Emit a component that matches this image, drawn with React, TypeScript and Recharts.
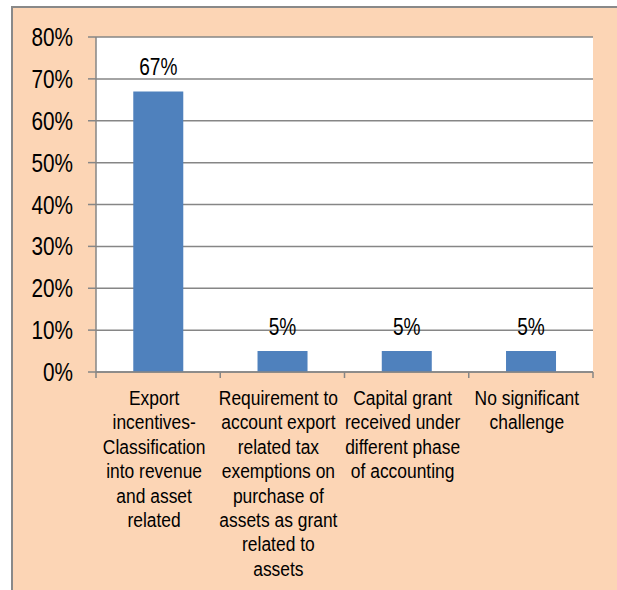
import { Bar, BarChart, CartesianGrid, LabelList, XAxis, YAxis } from "recharts";

const categories = [
    "Export\nincentives-\nClassification\ninto revenue\nand asset\nrelated",
    "Requirement to\naccount export\nrelated tax\nexemptions on\npurchase of\nassets as grant\nrelated to\nassets",
    "Capital grant\nreceived under\ndifferent phase\nof accounting",
    "No significant\nchallenge",
];
const shares = [67, 5, 5, 5];
const yTicks = [0, 10, 20, 30, 40, 50, 60, 70, 80];

const data = categories.map((name, i) => ({ name, share: shares[i] }));

const FONT = "'Liberation Sans', Arial, sans-serif";
const GRID = "#868686";
const SQUEEZE = 0.83; // the original uses a narrow font

function NarrowText({ x, y, size, anchor = "middle", children }: any) {
    return (
        <text
            transform={`translate(${x},${y}) scale(${SQUEEZE},1)`}
            textAnchor={anchor}
            fontFamily={FONT}
            fontSize={size}
            fill="#000"
        >
            {children}
        </text>
    );
}

function CategoryTick(props: any) {
    const { x, y, payload, index, visibleTicksCount } = props;
    const half = payload.offset ?? 62;
    const lines = String(payload.value).split("\n");
    return (
        <g>
            <line x1={x - half} y1={y - 8} x2={x - half} y2={y - 2} stroke={GRID} strokeWidth={1.5} />
            {index === visibleTicksCount - 1 && (
                <line x1={x + half} y1={y - 8} x2={x + half} y2={y - 2} stroke={GRID} strokeWidth={1.5} />
            )}
            {lines.map((l, i) => (
                <NarrowText key={i} x={x - 4} y={y + 25 + i * 24.4} size={21}>
                    {l}
                </NarrowText>
            ))}
        </g>
    );
}

function PercentTick(props: any) {
    const { x, y, payload } = props;
    return (
        <NarrowText x={x} y={y + 9} size={25} anchor="end">
            {`${payload.value}%`}
        </NarrowText>
    );
}

function BarLabel(props: any) {
    const { x, y, width, value } = props;
    return (
        <NarrowText x={x + width / 2} y={y - 16} size={23}>
            {`${value}%`}
        </NarrowText>
    );
}

export default function App() {
    return (
        <div style={{ position: "absolute", left: 0, top: 0, width: 617, height: 590 }}>
            <div
                style={{
                    position: "absolute",
                    left: 11,
                    top: 6,
                    width: 620,
                    height: 600,
                    background: "#FCD5B5",
                    borderLeft: "2px solid #898989",
                    borderTop: "2px solid #898989",
                }}
            />
            <div style={{ position: "absolute", left: 0, top: 0 }}>
                <BarChart
                    width={617}
                    height={590}
                    data={data}
                    margin={{ top: 37, right: 24, left: 16, bottom: 18 }}
                    barCategoryGap="30%"
                >
                    <CartesianGrid vertical={false} stroke={GRID} strokeWidth={1.5} fill="#fff" fillOpacity={1} />
                    <XAxis
                        dataKey="name"
                        height={200}
                        axisLine={{ stroke: GRID, strokeWidth: 1.5 }}
                        tickLine={false}
                        interval={0}
                        tick={<CategoryTick />}
                    />
                    <YAxis
                        width={80}
                        domain={[0, 80]}
                        ticks={yTicks}
                        interval={0}
                        axisLine={{ stroke: GRID, strokeWidth: 1.5 }}
                        tickLine={{ stroke: GRID, strokeWidth: 1.5 }}
                        tickSize={8}
                        tickMargin={15}
                        tick={<PercentTick />}
                    />
                    <Bar dataKey="share" fill="#4F81BD" isAnimationActive={false}>
                        <LabelList dataKey="share" content={<BarLabel />} />
                    </Bar>
                </BarChart>
            </div>
        </div>
    );
}
